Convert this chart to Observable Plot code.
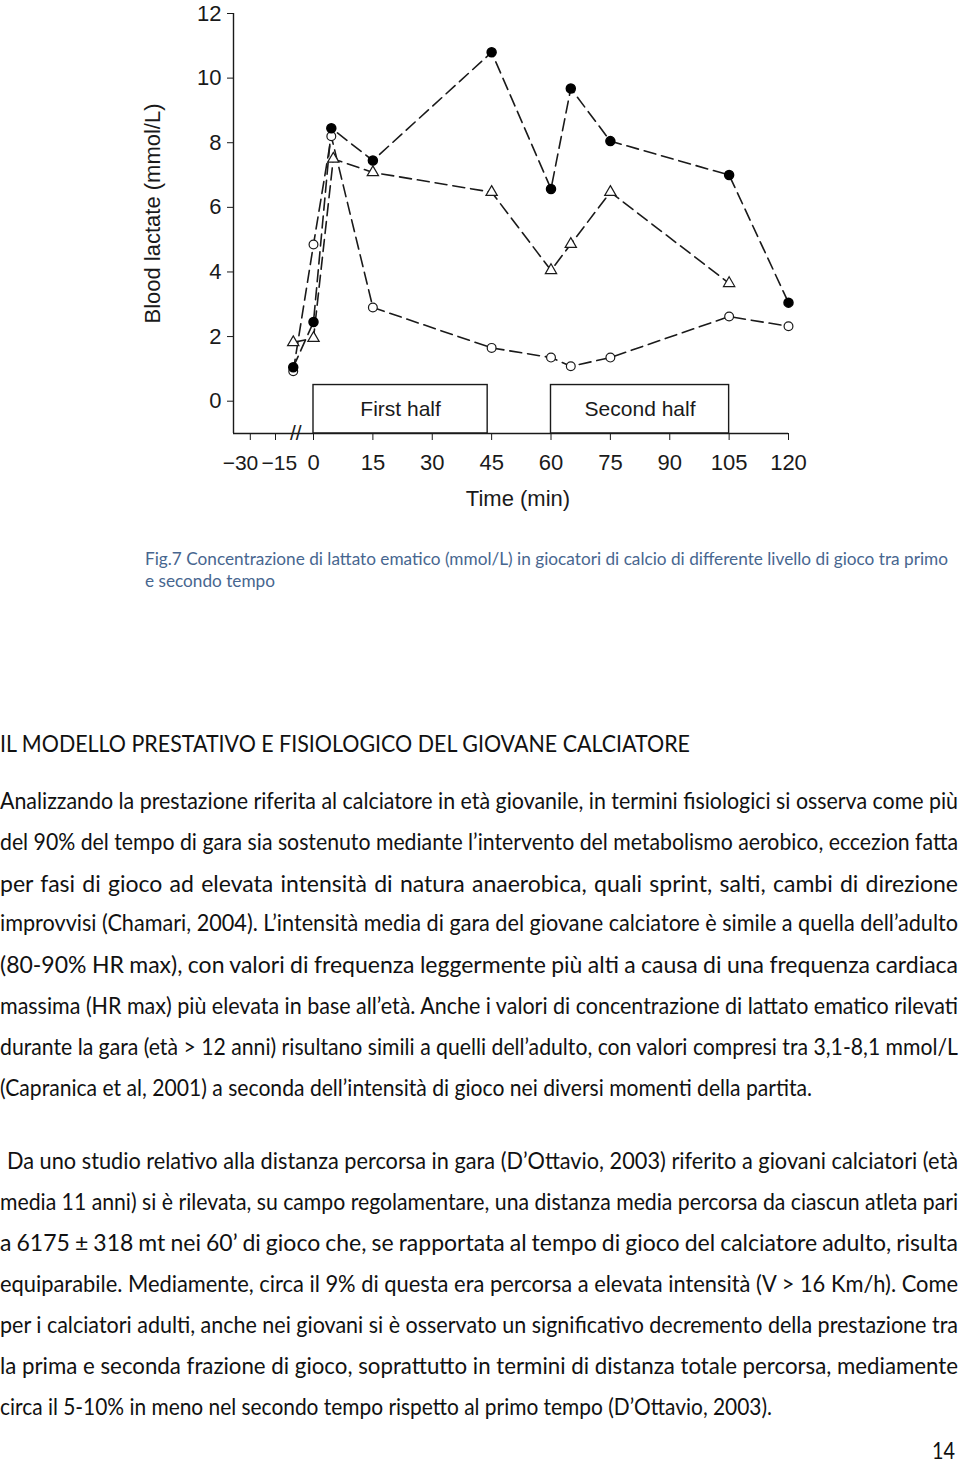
<!DOCTYPE html>
<html>
<head>
<meta charset="utf-8">
<script src="https://cdn.jsdelivr.net/npm/d3@7"></script>
<script src="https://cdn.jsdelivr.net/npm/@observablehq/plot@0.6"></script>
<style>
  html, body { margin: 0; padding: 0; background: #fff; }
  #page { position: relative; width: 960px; height: 1468px; overflow: hidden; background: #fff; }
  #chart { position: absolute; left: 0; top: 0; }
</style>
</head>
<body>
<div id="page"><div id="chart"></div></div>
<script>
// ---------------- DATA ----------------
// Filled circles series
const timeFilled = [-8, 0, 4.5, 15, 45, 60, 65, 75, 105, 120];
const lactateFilled = [1.05, 2.45, 8.45, 7.45, 10.8, 6.57, 9.68, 8.05, 7.0, 3.05];
// Open circles series
const timeOpen = [-8, 0, 4.5, 15, 45, 60, 65, 75, 105, 120];
const lactateOpen = [0.93, 4.85, 8.2, 2.9, 1.65, 1.35, 1.08, 1.35, 2.62, 2.32];
// Open triangles series
const timeTriangle = [-8, 0, 5, 15, 45, 60, 65, 75, 105];
const lactateTriangle = [1.82, 1.95, 7.5, 7.08, 6.47, 4.05, 4.86, 6.47, 3.65];

// Half-time boxes
const halfLabels = ["First half", "Second half"];
const halfStart = [0, 60];
const halfEnd = [44, 105];
const halfTop = [0.5, 0.5];

// Axis ticks
const xTicks = [-30, -15, 0, 15, 30, 45, 60, 75, 90, 105, 120];
const xPreTicks = [-30, -15];          // labels drawn separately (they sit tight together)
const yTicks = [0, 2, 4, 6, 8, 10, 12];
const xDomain = [-40, -15, 0, 120];   // broken (piecewise) time axis
const yDomain = [-1, 12];
const axisBreakAt = [-7];
const xTitle = "Time (min)";
const yTitle = "Blood lactate (mmol/L)";

// Text of the page
const captionLines = [
  "Fig.7 Concentrazione di lattato ematico (mmol/L) in giocatori di calcio di differente livello di gioco tra primo",
  "e secondo tempo"
];
const headingText = "IL MODELLO PRESTATIVO E FISIOLOGICO DEL GIOVANE CALCIATORE";
const bodyLines = [
  "Analizzando la prestazione riferita al calciatore in età giovanile, in termini fisiologici si osserva come più",
  "del 90% del tempo di gara sia sostenuto mediante l’intervento del metabolismo aerobico, eccezion fatta",
  "per fasi di gioco ad elevata intensità di natura anaerobica, quali sprint, salti, cambi di direzione",
  "improvvisi (Chamari, 2004). L’intensità media di gara del giovane calciatore è simile a quella dell’adulto",
  "(80-90% HR max), con valori di frequenza leggermente più alti a causa di una frequenza cardiaca",
  "massima (HR max) più elevata in base all’età. Anche i valori di concentrazione di lattato ematico rilevati",
  "durante la gara (età > 12 anni) risultano simili a quelli dell’adulto, con valori compresi tra 3,1-8,1 mmol/L",
  "(Capranica et al, 2001) a seconda dell’intensità di gioco nei diversi momenti della partita.",
  "Da uno studio relativo alla distanza percorsa in gara (D’Ottavio, 2003) riferito a giovani calciatori (età",
  "media 11 anni) si è rilevata, su campo regolamentare, una distanza media percorsa da ciascun atleta pari",
  "a 6175 ± 318 mt nei 60’ di gioco che, se rapportata al tempo di gioco del calciatore adulto, risulta",
  "equiparabile. Mediamente, circa il 9% di questa era percorsa a elevata intensità (V > 16 Km/h). Come",
  "per i calciatori adulti, anche nei giovani si è osservato un significativo decremento della prestazione tra",
  "la prima e seconda frazione di gioco, soprattutto in termini di distanza totale percorsa, mediamente",
  "circa il 5-10% in meno nel secondo tempo rispetto al primo tempo (D’Ottavio, 2003)."
];
const pageNumber = "14";

// ---------------- CHART ----------------
const rows = [];
timeFilled.forEach((t, i) => rows.push({series: "filled", time: t, lactate: lactateFilled[i]}));
timeOpen.forEach((t, i) => rows.push({series: "open", time: t, lactate: lactateOpen[i]}));
timeTriangle.forEach((t, i) => rows.push({series: "triangle", time: t, lactate: lactateTriangle[i]}));
const halves = halfLabels.map((label, i) => ({label, start: halfStart[i], end: halfEnd[i], top: halfTop[i], bottom: yDomain[0]}));
const fmt = d3.format("d");
const minusFmt = v => fmt(v).replace("-", "\u2212");

const ink = "#1a1a1a";
const chart = Plot.plot({
  width: 960,
  height: 520,
  marginLeft: 233,
  marginRight: 172,
  marginTop: 13,
  marginBottom: 87,
  style: {fontFamily: "'Liberation Sans', Arial, sans-serif", fontSize: "22px", color: ink, background: "#fff", overflow: "visible"},
  x: {type: "linear", domain: xDomain, range: [233, 275, 313, 788], ticks: xTicks, tickSize: 7, tickPadding: 14,
      tickFormat: v => xPreTicks.includes(v) ? "" : minusFmt(v), label: null},
  y: {domain: yDomain, ticks: yTicks, tickSize: 6, tickPadding: 6, label: null},
  marks: [
    Plot.ruleY([yDomain[0]], {stroke: ink, strokeWidth: 1.4}),
    Plot.ruleX([xDomain[0]], {stroke: ink, strokeWidth: 1.4}),
    Plot.rect(halves, {x1: "start", x2: "end", y1: "bottom", y2: "top", fill: "none", stroke: ink, strokeWidth: 1.4}),
    Plot.text(halves, {x: d => (d.start + d.end) / 2, y: d => (d.bottom + d.top) / 2, text: "label", fontSize: 21, fill: ink}),
    Plot.text(axisBreakAt, {x: d => d, y: () => yDomain[0], text: () => "//", fontSize: 21, fill: ink}),
    Plot.text([xPreTicks[0]], {x: d => d, y: () => yDomain[0], text: d => minusFmt(d), textAnchor: "end",
      dx: 8, dy: 30, fontSize: 21, fill: ink}),
    Plot.text([xPreTicks[1]], {x: d => d, y: () => yDomain[0], text: d => minusFmt(d), textAnchor: "start",
      dx: -14, dy: 30, fontSize: 21, fill: ink}),
    Plot.line(rows, {x: "time", y: "lactate", z: "series", stroke: ink, strokeWidth: 1.6, strokeDasharray: "12,6"}),
    Plot.dot(rows.filter(d => d.series === "open"), {x: "time", y: "lactate", r: 4.4, fill: "#fff", stroke: ink, strokeWidth: 1.2}),
    Plot.dot(rows.filter(d => d.series === "triangle"), {x: "time", y: "lactate", r: 4.2, symbol: "triangle", fill: "#fff", stroke: ink, strokeWidth: 1.2}),
    Plot.dot(rows.filter(d => d.series === "filled"), {x: "time", y: "lactate", r: 4.5, fill: "#000", stroke: "#000"}),
    Plot.text([yTitle], {frameAnchor: "left", textAnchor: "middle", dx: -81, dy: -10, rotate: -90, text: d => d, fontSize: 22, fill: ink}),
    Plot.text([xTitle], {frameAnchor: "bottom", textAnchor: "middle", lineAnchor: "middle", dx: 7, dy: 65, text: d => d, fontSize: 22, fill: ink})
  ]
});
document.getElementById("chart").appendChild(chart);

// ---------------- PAGE TEXT ----------------
const page = document.getElementById("page");
const bodyFont = "Lato, 'Open Sans', sans-serif";
function placeLine(text, left, right, cy, size, color) {
  const el = document.createElement("div");
  el.textContent = text;
  const lh = Math.round(size * 1.2);
  el.style.cssText = `position:absolute;left:${left}px;top:${cy - 0.63 * size}px;white-space:pre;font-family:${bodyFont};font-size:${size}px;line-height:${lh}px;color:${color};transform-origin:0 50%;`;
  page.appendChild(el);
  const w = el.getBoundingClientRect().width;
  const target = right - left;
  const n = (text.match(/ /g) || []).length;
  const diff = target - w;
  if (n > 0 && diff > -n * 1.2) {
    el.style.wordSpacing = (diff / n) + "px";
  } else {
    el.style.transform = `scaleX(${target / w})`;
  }
}
const capColor = "#47668f";
placeLine(captionLines[0], 145, 948, 558, 18, capColor);
placeLine(captionLines[1], 145, 275, 580, 18, capColor);
placeLine(headingText, 0, 690, 743, 23, "#111");
const bodyLayout = [
  [0, 958, 800], [0, 958, 841], [0, 958, 883], [0, 958, 922], [0, 958, 964],
  [0, 958, 1005], [0, 958, 1046], [0, 812, 1087],
  [7, 958, 1160], [0, 958, 1201], [0, 958, 1242], [0, 958, 1283], [0, 958, 1324],
  [0, 958, 1365], [0, 772, 1406]
];
bodyLines.forEach((t, i) => placeLine(t, bodyLayout[i][0], bodyLayout[i][1], bodyLayout[i][2], 23, "#111"));
placeLine(pageNumber, 932, 955, 1450, 23, "#111");
</script>
</body>
</html>
